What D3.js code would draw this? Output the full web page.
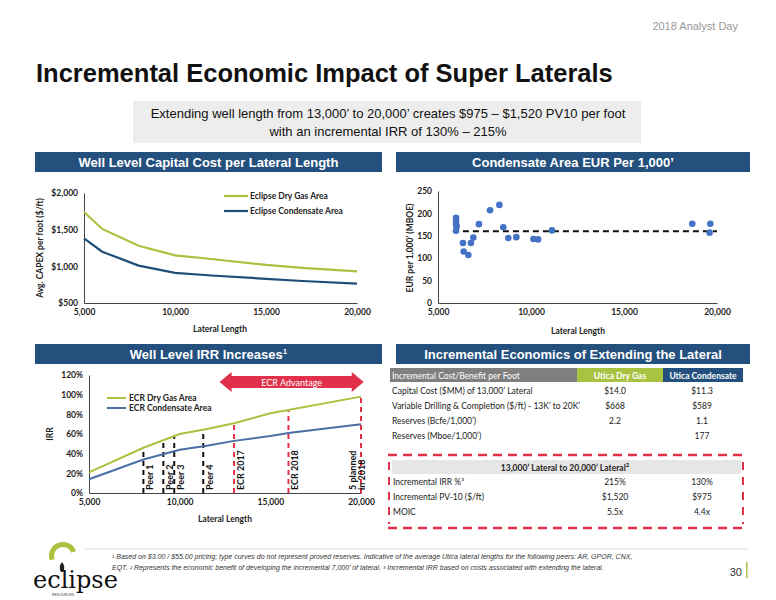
<!DOCTYPE html><html><head><meta charset="utf-8"><script src="https://cdnjs.cloudflare.com/ajax/libs/d3/7.8.5/d3.min.js"></script>
<style>body{margin:0;background:#fff}svg{display:block}</style></head><body><svg id="s" width="776" height="600"></svg>
<script>
const capexX=[5000,6000,8000,10000,12000,15000,17000,20000];
const capexDry=[1740,1510,1280,1150,1100,1020,980,930];
const capexCond=[1380,1200,1010,910,875,830,800,765];
const eurX=[5970,5970,5970,6000,5970,6340,6380,6630,6770,6900,7200,7800,8300,8510,8780,9210,10130,10380,11130,18670,19640,19600];
const eurY=[190,182,176,171,161,134,115,107,134,146,176,207,219,169,145,147,143,142,162,177,177,157];
const eurAvg=160;
const irrX=[5000,8000,10000,11500,13000,15000,20000];
const irrDry=[21,46,60,65,71,81,98];
const irrCondX=[5000,8000,10000,11500,13000,15000,16000,20000];
const irrCond=[14,34,44,48,53,58,61,70];
const markers=[{x:8000,t:"Peer 1",c:"#111",top:46},{x:9100,t:"Peer 2",c:"#111",top:53},{x:9700,t:"Peer 3",c:"#111",top:57},{x:11300,t:"Peer 4",c:"#111",top:64},{x:13000,t:"ECR 2017",c:"#e0304a",top:71},{x:16000,t:"ECR 2018",c:"#e0304a",top:84},{x:20000,t:"5 planned|in 2018",c:"#e0304a",top:98}];
const tblRows=[["Capital Cost ($MM) of 13,000’ Lateral","$14.0","$11.3"],["Variable Drilling & Completion ($/ft) - 13K’ to 20K’","$668","$589"],["Reserves (Bcfe/1,000’)","2.2","1.1"],["Reserves (Mboe/1,000’)","","177"]];
const incRows=[["Incremental IRR %³","215%","130%"],["Incremental PV-10 ($/ft)","$1,520","$975"],["MOIC","5.5x","4.4x"]];

const svg=d3.select("#s");
const F="Lato, 'Open Sans', sans-serif", A="'Liberation Sans', Arial, sans-serif";
const navy="#24507e", green="#a9c23f", blue="#1f4e79";
function txt(x,y,t,o={}){return svg.append("text").attr("x",x).attr("y",y).text(t).attr("font-family",o.f||F).attr("font-size",o.s||9).attr("font-weight",o.w||"normal").attr("fill",o.c||"#222").attr("text-anchor",o.a||"start").attr("font-style",o.i||"normal");}
txt(738,30,"2018 Analyst Day",{f:A,s:11,c:"#999",a:"end"});
txt(36,82,"Incremental Economic Impact of Super Laterals",{f:A,s:25.5,w:"bold",c:"#111"});
svg.append("rect").attr("x",133).attr("y",101).attr("width",508).attr("height",42).attr("fill","#ededed");
txt(388,118,"Extending well length from 13,000’ to 20,000’ creates $975 – $1,520 PV10 per foot",{f:A,s:13,a:"middle",c:"#111"});
txt(388,136,"with an incremental IRR of 130% – 215%",{f:A,s:13,a:"middle",c:"#111"});
function hdr(x,w,y,t){svg.append("rect").attr("x",x).attr("y",y).attr("width",w).attr("height",20).attr("fill",navy);
 const e=txt(x+w/2,y+15,"",{f:A,s:13,w:"bold",c:"#fff",a:"middle"});e.text(t.replace("¹",""));if(t.includes("¹"))e.append("tspan").attr("dy",-5).attr("font-size",8).text("1");}
hdr(35,347,152,"Well Level Capital Cost per Lateral Length");
hdr(396,354,152,"Condensate Area EUR Per 1,000’");
hdr(35,347,344,"Well Level IRR Increases¹");
hdr(396,354,344,"Incremental Economics of Extending the Lateral");

function axes(g,x,y,yt,yf,bottom,left){
 g.append("g").attr("transform",`translate(0,${bottom})`).call(d3.axisBottom(x).tickValues([5000,10000,15000,20000]).tickFormat(d3.format(",")).tickSize(0).tickPadding(6));
 g.append("g").attr("transform",`translate(${left},0)`).call(d3.axisLeft(y).tickValues(yt).tickFormat(yf).tickSize(0).tickPadding(6));
 g.selectAll(".domain").attr("stroke","#444");g.selectAll(".tick text").attr("font-family",F).attr("font-size",8.5).attr("font-weight","bold").attr("fill","#222");}
{const g=svg.append("g");const x=d3.scaleLinear([5000,20000],[84,357]),y=d3.scaleLinear([500,2000],[303,193]);
 axes(g,x,y,[500,1000,1500,2000],d=>"$"+d3.format(",")(d),303,84);
 const ln=d3.line().x((d,i)=>x(capexX[i])).y(d=>y(d));
 g.append("path").attr("d",ln(capexDry)).attr("fill","none").attr("stroke",green).attr("stroke-width",2.2);
 g.append("path").attr("d",ln(capexCond)).attr("fill","none").attr("stroke",blue).attr("stroke-width",2.2);
 [[green,"Eclipse Dry Gas Area",196],[blue,"Eclipse Condensate Area",211]].forEach(([c,t,yy])=>{g.append("line").attr("x1",224).attr("x2",248).attr("y1",yy).attr("y2",yy).attr("stroke",c).attr("stroke-width",2.2);txt(250,yy+3,t,{s:8.5,w:"bold"});});
 txt(220,332,"Lateral Length",{s:8.5,w:"bold",a:"middle"});
 txt(0,0,"Avg. CAPEX per foot ($/ft)",{s:8.5,w:"bold",a:"middle"}).attr("transform","translate(43,248) rotate(-90)");}
{const g=svg.append("g");const x=d3.scaleLinear([5000,20000],[438,717]),y=d3.scaleLinear([0,250],[303,191]);
 axes(g,x,y,[0,50,100,150,200,250],d=>d,303,438);
 g.append("line").attr("x1",x(5800)).attr("x2",x(20000)).attr("y1",y(eurAvg)).attr("y2",y(eurAvg)).attr("stroke","#111").attr("stroke-width",2).attr("stroke-dasharray","6,4");
 g.selectAll("circle").data(eurX).join("circle").attr("cx",d=>x(d)).attr("cy",(d,i)=>y(eurY[i])).attr("r",3.3).attr("fill","#4472c4");
 txt(578,334,"Lateral Length",{s:8.5,w:"bold",a:"middle"});
 txt(0,0,"EUR per 1,000’ (MBOE)",{s:8.5,w:"bold",a:"middle"}).attr("transform","translate(413,248) rotate(-90)");}
{const g=svg.append("g");const x=d3.scaleLinear([5000,20000],[89,361]),y=d3.scaleLinear([0,120],[493,375]);
 axes(g,x,y,[0,20,40,60,80,100,120],d=>d+"%",493,89);
 markers.forEach(m=>{g.append("line").attr("x1",x(m.x)).attr("x2",x(m.x)).attr("y1",y(0)).attr("y2",y(m.top)).attr("stroke",m.c).attr("stroke-width",2).attr("stroke-dasharray","5,4");
  const parts=m.t.split("|");parts.forEach((p,k)=>{txt(0,0,p,{s:9,w:"bold",c:"#111"}).attr("transform",`translate(${x(m.x)+(parts.length>1?-5+k*9:10)},${y(0)-3}) rotate(-90)`);});});
 const lnD=d3.line().x((d,i)=>x(irrX[i])).y(d=>y(d)),lnC=d3.line().x((d,i)=>x(irrCondX[i])).y(d=>y(d));
 g.append("path").attr("d",lnD(irrDry)).attr("fill","none").attr("stroke",green).attr("stroke-width",2);
 g.append("path").attr("d",lnC(irrCond)).attr("fill","none").attr("stroke","#4a6fa5").attr("stroke-width",2);
 [[green,"ECR Dry Gas Area",398],["#4a6fa5","ECR Condensate Area",408]].forEach(([c,t,yy])=>{g.append("line").attr("x1",107).attr("x2",126).attr("y1",yy).attr("y2",yy).attr("stroke",c).attr("stroke-width",2);txt(129,yy+3,t,{s:8.5,w:"bold"});});
 const x0=x(12200),x1=x(20150),yc=382;
 g.append("path").attr("d",`M${x0},${yc} L${x0+12},${yc-10} L${x0+12},${yc-6} L${x1-12},${yc-6} L${x1-12},${yc-10} L${x1},${yc} L${x1-12},${yc+10} L${x1-12},${yc+6} L${x0+12},${yc+6} L${x0+12},${yc+10} Z`).attr("fill","#e0304a");
 txt((x0+x1)/2,yc+3.5,"ECR Advantage",{s:9,c:"#fff",a:"middle"});
 txt(225,522,"Lateral Length",{s:8.5,w:"bold",a:"middle"});
 txt(0,0,"IRR",{s:8.5,w:"bold",a:"middle"}).attr("transform","translate(53,434) rotate(-90)");}
{svg.append("rect").attr("x",390).attr("y",368).attr("width",187).attr("height",14).attr("fill","#7f7f7f");
 svg.append("rect").attr("x",577).attr("y",368).attr("width",86).attr("height",14).attr("fill",green);
 svg.append("rect").attr("x",663).attr("y",368).attr("width",80).attr("height",14).attr("fill",navy);
 txt(392,378.5,"Incremental Cost/Benefit per Foot",{s:8.5,c:"#fff"});
 txt(620,378.5,"Utica Dry Gas",{s:8.5,w:"bold",c:"#fff",a:"middle"});
 txt(703,378.5,"Utica Condensate",{s:8.5,w:"bold",c:"#fff",a:"middle"});
 tblRows.forEach((r,i)=>{const yy=394+i*15;txt(392,yy,r[0],{s:8.5});txt(615,yy,r[1],{s:8.5,a:"middle"});txt(702,yy,r[2],{s:8.5,a:"middle"});});
 const red="#e0304a";
 [455,528].forEach(yy=>svg.append("line").attr("x1",388).attr("x2",747).attr("y1",yy).attr("y2",yy).attr("stroke",red).attr("stroke-width",2.5).attr("stroke-dasharray","9,6"));
 [389,743].forEach(xx=>svg.append("line").attr("x1",xx).attr("x2",xx).attr("y1",462).attr("y2",524).attr("stroke",red).attr("stroke-width",2).attr("stroke-dasharray","8,7"));
 svg.append("rect").attr("x",392).attr("y",460).attr("width",349).attr("height",14).attr("fill","#e6e6e6");
 const st=txt(565,470.5,"13,000’ Lateral to 20,000’ Lateral",{s:8.5,w:"bold",a:"middle"});st.append("tspan").attr("dy",-4).attr("font-size",6).text("2");
 incRows.forEach((r,i)=>{const yy=485+i*15;txt(393,yy,r[0],{s:8.5});txt(615,yy,r[1],{s:8.5,a:"middle"});txt(702,yy,r[2],{s:8.5,a:"middle"});});}
svg.append("line").attr("x1",85).attr("x2",748).attr("y1",549).attr("y2",549).attr("stroke","#ddd");
txt(112,559,"¹ Based on $3.00 / $55.00 pricing; type curves do not represent proved reserves. Indicative of the average Utica lateral lengths for the following peers: AR, GPOR, CNX,",{f:A,s:7,i:"italic",c:"#333"});
txt(112,570,"EQT. ² Represents the economic benefit of developing the incremental 7,000’ of lateral. ³ Incremental IRR based on costs associated with extending the lateral.",{f:A,s:7,i:"italic",c:"#333"});
txt(742,576,"30",{f:A,s:11,a:"end",c:"#333"});
svg.append("rect").attr("x",746).attr("y",562).attr("width",1.5).attr("height",16).attr("fill",green);
svg.append("path").attr("d",d3.arc()({innerRadius:9,outerRadius:14,startAngle:-1.9,endAngle:1.2})).attr("transform","translate(63,556)").attr("fill",green);
svg.append("path").attr("d","M61,572 q-3,-5 1,-10 q4,5 1,10 z").attr("fill","#222");
txt(33,588,"eclipse",{f:"'DejaVu Serif', serif",s:24,c:"#111"});
txt(52,596,"RESOURCES",{f:A,s:3.5,c:"#333"});
</script></body></html>
